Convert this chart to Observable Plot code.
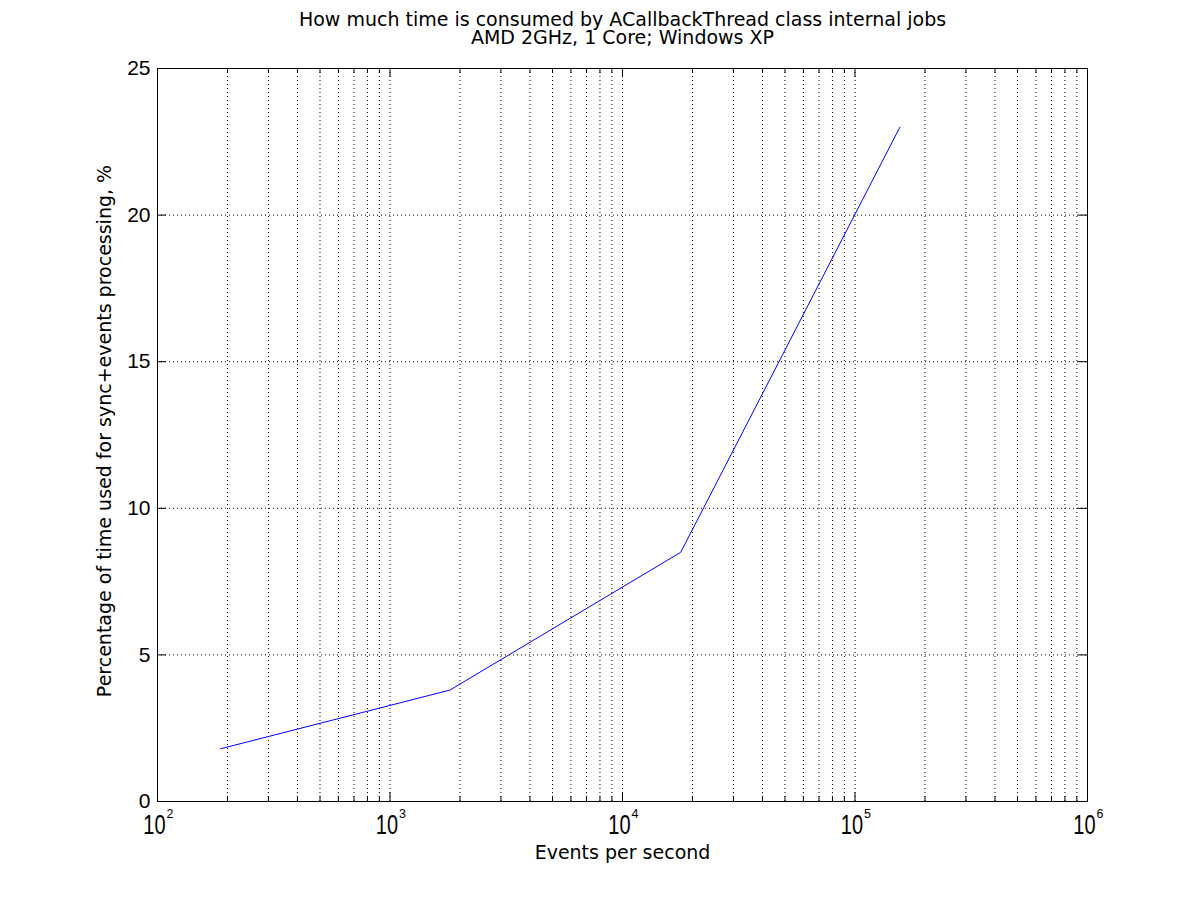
<!DOCTYPE html>
<html>
<head>
<meta charset="utf-8">
<script src="https://cdn.jsdelivr.net/npm/d3@7"></script>
<script src="https://cdn.jsdelivr.net/npm/@observablehq/plot@0.6"></script>
<style>
  html, body { margin: 0; padding: 0; background: #ffffff; }
  #chart svg { display: block; }
</style>
</head>
<body>
<div id="chart"></div>
<script>
// ---- data ----
const eventsPerSecond = [187, 1810, 17800, 156000];
const timePercent = [1.8, 3.8, 8.5, 23.0];

// ---- ticks ----
const xDecades = [1e2, 1e3, 1e4, 1e5, 1e6];
const xExponents = ["2", "3", "4", "5", "6"];
const xMinor = [1e2, 1e3, 1e4, 1e5].flatMap(d => [2, 3, 4, 5, 6, 7, 8, 9].map(m => m * d));
const yTicks = [0, 5, 10, 15, 20, 25];
const yGrid = [5, 10, 15, 20];

const titleLines = ["How much time is consumed by ACallbackThread class internal jobs", "AMD 2GHz, 1 Core; Windows XP"];
const xLabel = "Events per second";
const yLabel = "Percentage of time used for sync+events processing, %";

const data = eventsPerSecond.map((x, i) => ({x, y: timePercent[i]}));
const xGrid = [...xDecades.slice(1, -1), ...xMinor];

const W = 1201, H = 900;
const mL = 157, mR = 114, mT = 68, mB = 99;
const pw = W - mL - mR, ph = H - mT - mB;
const majorLen = 9, minorLen = 5;

const tickFont = "'Liberation Sans', Arial, Helvetica, sans-serif";
const labelFont = "'DejaVu Sans', Verdana, sans-serif";
const labelSize = 19;

const chart = Plot.plot({
  width: W,
  height: H,
  marginLeft: mL, marginRight: mR, marginTop: mT, marginBottom: mB,
  style: {background: "#ffffff", color: "#000000"},
  x: {type: "log", domain: [1e2, 1e6], axis: null},
  y: {domain: [0, 25], axis: null},
  marks: [
    // dotted grid
    Plot.ruleX(xGrid, {x: d => d, stroke: "#000", strokeWidth: 1, strokeDasharray: "1,3", strokeOpacity: 1}),
    Plot.ruleY(yGrid, {y: d => d, stroke: "#000", strokeWidth: 1, strokeDasharray: "1,3", strokeOpacity: 1}),
    // inward tick marks (bottom/top)
    Plot.tickX(xDecades, {x: d => d, stroke: "#000", insetTop: ph - majorLen}),
    Plot.tickX(xDecades, {x: d => d, stroke: "#000", insetBottom: ph - majorLen}),
    Plot.tickX(xMinor, {x: d => d, stroke: "#000", insetTop: ph - minorLen}),
    Plot.tickX(xMinor, {x: d => d, stroke: "#000", insetBottom: ph - minorLen}),
    // inward tick marks (left/right)
    Plot.tickY(yTicks, {y: d => d, stroke: "#000", insetRight: pw - majorLen}),
    Plot.tickY(yTicks, {y: d => d, stroke: "#000", insetLeft: pw - majorLen}),
    Plot.frame({stroke: "#000", strokeWidth: 1}),
    // data line
    Plot.line(data, {x: "x", y: "y", stroke: "#0000ff", strokeWidth: 1}),
    // y tick labels
    Plot.text(yTicks, {y: d => d, text: d => String(d), frameAnchor: "left", textAnchor: "end", lineAnchor: "middle", dx: -7, fontSize: 21, fontFamily: tickFont, fill: "#000"}),
    // x tick labels 10^k
    Plot.text(xDecades, {x: d => d, text: () => "10", frameAnchor: "bottom", textAnchor: "end", lineAnchor: "bottom", dx: 8, dy: 32, fontSize: 20, fontFamily: tickFont, fill: "#000"}),
    Plot.text(xDecades, {x: d => d, text: (d, i) => xExponents[i], frameAnchor: "bottom", textAnchor: "start", lineAnchor: "bottom", dx: 9, dy: 16, fontSize: 12.5, fontFamily: tickFont, fill: "#000"}),
    // titles
    Plot.text([titleLines[0]], {text: d => d, frameAnchor: "top", textAnchor: "middle", lineAnchor: "bottom", dy: -43, fontSize: labelSize, fontFamily: labelFont, fill: "#000"}),
    Plot.text([titleLines[1]], {text: d => d, frameAnchor: "top", textAnchor: "middle", lineAnchor: "bottom", dy: -24.5, fontSize: labelSize, fontFamily: labelFont, fill: "#000"}),
    // axis labels
    Plot.text([xLabel], {text: d => d, frameAnchor: "bottom", textAnchor: "middle", lineAnchor: "bottom", dy: 57.3, fontSize: labelSize, fontFamily: labelFont, fill: "#000"}),
    Plot.text([yLabel], {text: d => d, frameAnchor: "left", textAnchor: "middle", lineAnchor: "bottom", rotate: -90, dx: -47, dy: -4, fontSize: labelSize, fontFamily: labelFont, fill: "#000"})
  ]
});

// stretch the "10" glyphs vertically about their baseline, like the reference
Array.from(chart.querySelectorAll("text")).filter(t => t.textContent === "10" && t.getAttribute("font-size") !== "21" && t.parentNode.getAttribute("font-size") !== "21").forEach(t => {
  const tr = t.getAttribute("transform");
  if (tr) {
    t.setAttribute("transform", tr + " scale(1,1.4)");
  } else {
    const x = t.getAttribute("x") || 0, y = t.getAttribute("y") || 0;
    t.setAttribute("transform", `translate(${x},${y}) scale(1,1.4)`);
    t.removeAttribute("x");
    t.removeAttribute("y");
  }
});

document.getElementById("chart").appendChild(chart);
</script>
</body>
</html>
